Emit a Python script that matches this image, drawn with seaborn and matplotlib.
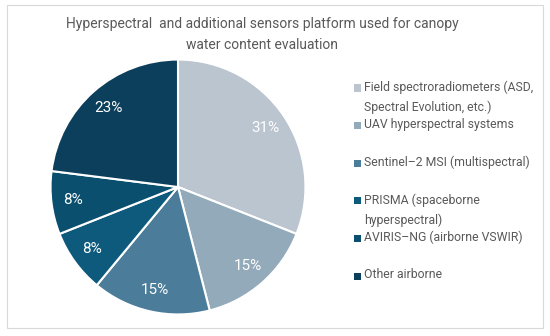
import matplotlib
matplotlib.use("Agg")
import matplotlib.pyplot as plt
from matplotlib.patches import Rectangle
import seaborn as sns

# data
labels = [
    "Field spectroradiometers (ASD,\nSpectral Evolution, etc.)",
    "UAV hyperspectral systems",
    "Sentinel\u20132 MSI (multispectral)",
    "PRISMA (spaceborne\nhyperspectral)",
    "AVIRIS\u2013NG (airborne VSWIR)",
    "Other airborne",
]
shares = [31, 15, 15, 8, 8, 23]
colors = ["#BAC5CF", "#93AABB", "#4B7D9A", "#0E5A7C", "#0A4F6E", "#0C3F5B"]
title = "Hyperspectral  and additional sensors platform used for canopy\nwater content evaluation"

sns.set_theme(style="white")
plt.rcParams["font.family"] = ["Roboto", "DejaVu Sans"]
palette = sns.color_palette(colors)

W, H = 550, 336
fig = plt.figure(figsize=(W / 100, H / 100), dpi=100)

# light frame around the chart
fig.patches.append(Rectangle((7 / W, 1 - 328 / H), 536 / W, 323 / H,
                             transform=fig.transFigure, fill=False,
                             edgecolor="#D9D9D9", linewidth=0.8))

# pie
cx, cy, r = 178, 187, 130
ax = fig.add_axes([(cx - r) / W, 1 - (cy + r) / H, 2 * r / W, 2 * r / H])
wedges, _, autotexts = ax.pie(
    shares, colors=palette, startangle=90, counterclock=False,
    autopct=lambda p: f"{p:.0f}%", pctdistance=0.83, radius=1,
    wedgeprops=dict(edgecolor="white", linewidth=1.5),
    textprops=dict(color="white", fontsize=11))
ax.set_xlim(-1.02, 1.02)
ax.set_ylim(-1.02, 1.02)
ax.set_aspect("equal")
ax.axis("off")

fig.text(262 / W, 1 - 34.5 / H, title, ha="center", va="center",
         fontsize=10, color="#595959", linespacing=1.65)

# legend, drawn as Excel lays it out: even slots, text hanging from the top
y0, step = 88, 37.6
for i, (lab, col) in enumerate(zip(labels, palette)):
    y = y0 + i * step
    fig.patches.append(Rectangle((354 / W, 1 - (y + 3.5) / H), 7 / W, 7 / H,
                                 transform=fig.transFigure, facecolor=col,
                                 edgecolor="none"))
    fig.text(364 / W, 1 - (y - 7.5) / H, lab, ha="left", va="top",
             fontsize=8.8, color="#595959", linespacing=1.65)

fig.savefig("out.png", dpi=100)
